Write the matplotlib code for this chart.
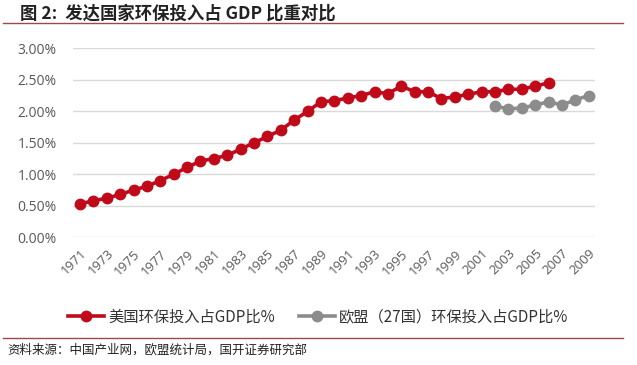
import matplotlib
matplotlib.use("Agg")
import matplotlib.pyplot as plt
from matplotlib.lines import Line2D
import numpy as np

plt.rcParams['font.family'] = ['Noto Sans CJK SC', 'DejaVu Sans']

years = list(range(1971, 2010))
us_values = [0.53, 0.58, 0.62, 0.68, 0.75, 0.81, 0.90, 1.00, 1.11, 1.21,
             1.25, 1.30, 1.40, 1.50, 1.60, 1.70, 1.86, 2.00, 2.15, 2.17,
             2.21, 2.25, 2.31, 2.28, 2.40, 2.31, 2.31, 2.20, 2.23, 2.27,
             2.31, 2.31, 2.35, 2.35, 2.40, 2.45]
eu_years = list(range(2002, 2010))
eu_values = [2.08, 2.04, 2.05, 2.10, 2.15, 2.10, 2.18, 2.25]

title = "图 2:  发达国家环保投入占 GDP 比重对比"
us_label = "美国环保投入占GDP比%"
eu_label = "欧盟（27国）环保投入占GDP比%"
source = "资料来源：中国产业网，欧盟统计局，国开证券研究部"
y_ticks = [0, 0.5, 1.0, 1.5, 2.0, 2.5, 3.0]

red = '#C00A1A'
gray = '#8C8C8C'

fig = plt.figure(figsize=(6.37, 3.65), dpi=100)
ax = fig.add_axes([0.1151, 0.3499, 0.8196, 0.5178])

x_all = np.arange(len(years))
us_x = x_all[:len(us_values)]
eu_x = np.array([years.index(y) for y in eu_years])

ax.plot(us_x, us_values, color=red, lw=2.6, marker='o', ms=7.5, zorder=3)
ax.plot(eu_x, eu_values, color=gray, lw=2.6, marker='o', ms=7.5, zorder=3)

ax.set_xlim(-0.5, len(years) - 0.5)
ax.set_ylim(0, 3.0)
ax.set_yticks(y_ticks)
ax.set_yticklabels([f"{v:.2f}%" for v in y_ticks], fontsize=10, color='#595959',
                   family='Open Sans')
ax.grid(axis='y', color='#D9D9D9', lw=1)
ax.set_axisbelow(True)
for s in ax.spines.values():
    s.set_visible(False)
ax.tick_params(axis='both', length=0)
ax.tick_params(axis='y', pad=12)

tick_idx = x_all[::2]
ax.set_xticks(tick_idx)
ax.set_xticklabels([str(years[i]) for i in tick_idx], rotation=45, ha='right',
                   rotation_mode='anchor', fontsize=9.5, color='#595959',
                   family='Open Sans')
ax.tick_params(axis='x', pad=7)

handles = [Line2D([], [], color=red, lw=2.6, marker='o', ms=7.5),
           Line2D([], [], color=gray, lw=2.6, marker='o', ms=7.5)]
fig.legend(handles, [us_label, eu_label], loc='center', bbox_to_anchor=(0.5, 0.131),
           ncol=2, frameon=False, fontsize=11, handlelength=2.3, columnspacing=1.6,
           handletextpad=0.3, labelcolor='#333333')

fig.text(0.031, 0.962, title, fontsize=12.5, fontweight='bold', color='#222222', va='center')
fig.add_artist(Line2D([0.005, 0.978], [0.938, 0.938], color='#9C4A48', lw=1))
fig.add_artist(Line2D([0.005, 0.978], [0.074, 0.074], color='#9C4A48', lw=1))
fig.text(0.012, 0.042, source, fontsize=9, color='#222222', va='center')

fig.savefig('out.png', dpi=100, facecolor='white')
